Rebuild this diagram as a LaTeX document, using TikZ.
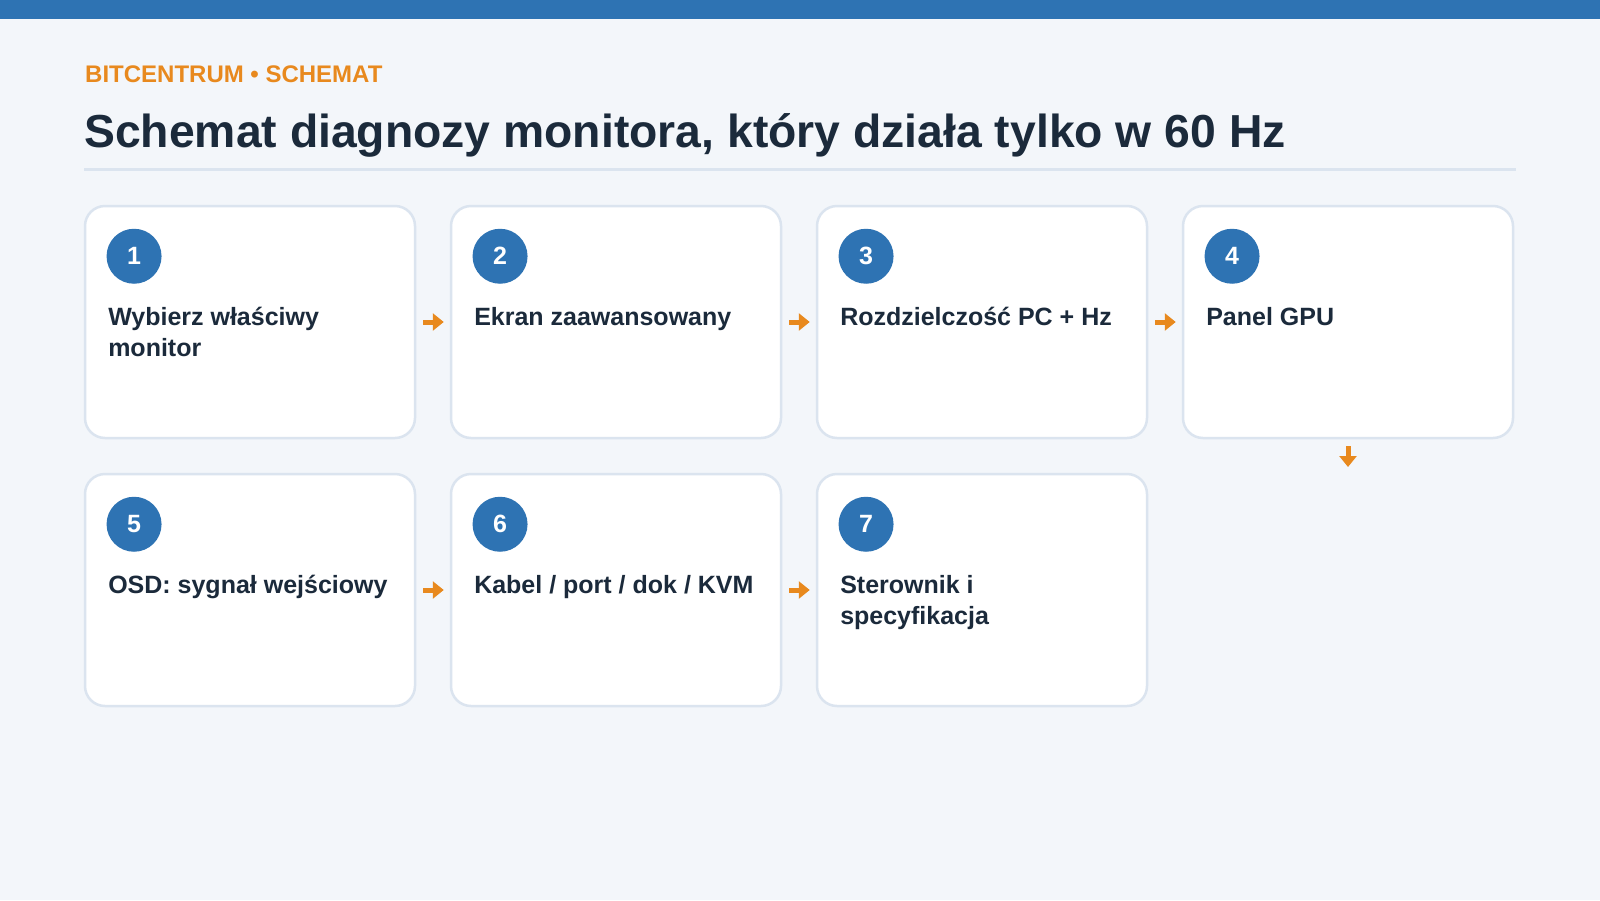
\documentclass[tikz,border=0pt]{standalone}
\usepackage{fontspec}
\setmainfont{Liberation Sans}
\usetikzlibrary{arrows.meta,calc}
\definecolor{bg}{HTML}{F3F6FA}
\definecolor{bar}{HTML}{2E73B3}
\definecolor{navy}{HTML}{1B2A3B}
\definecolor{orng}{HTML}{E8891E}
\definecolor{bord}{HTML}{DBE4EF}
\tikzset{
  card/.style={draw=bord, fill=white, line width=2.5pt, rounded corners=20pt,
    minimum width=330pt, minimum height=232pt, inner sep=0pt},
  num/.style={circle, fill=bar, text=white, minimum size=55pt, inner sep=0pt,
    font=\fontsize{25}{30}\selectfont\bfseries},
  lbl/.style={anchor=base west, inner sep=0pt, align=left, text=navy,
    font=\fontsize{25}{30.6}\selectfont\bfseries},
  flow/.style={draw=orng, line width=5pt, -{Triangle[length=11pt,width=17pt]},
    shorten <=7pt, shorten >=6pt},
}
\begin{document}
\begin{tikzpicture}[x=1pt,y=-1pt]
\fill[bg] (0,0) rectangle (1600,900);
\useasboundingbox (0,0) rectangle (1600,900);
\fill[bar] (0,0) rectangle (1600,19);
\node[anchor=base west, inner sep=0pt, text=orng, font=\fontsize{24}{28}\selectfont\bfseries] (sub) at (85,82) {BITCENTRUM • SCHEMAT};
\node[anchor=base west, inner sep=0pt, text=navy, font=\fontsize{46.3}{54}\selectfont\bfseries] (title) at (84,147.7) {Schemat diagnozy monitora, który działa tylko w 60 Hz};
\draw[bord, line width=3pt] (84,169.5) -- (1516,169.5);

\node[card] (c1) at (250,322) {};
\node[card] (c2) at (616,322) {};
\node[card] (c3) at (982,322) {};
\node[card] (c4) at (1348,322) {};
\node[card] (c5) at (250,590) {};
\node[card] (c6) at (616,590) {};
\node[card] (c7) at (982,590) {};

\foreach \i in {1,...,7}{
  \node[num] (n\i) at ($(c\i.north west)+(50.3,51.5)$) {\i};
}
% two-line labels: base anchor sits on the last line
\node[lbl] (t1) at ($(c1.north west)+(24.3,151.3)$) {Wybierz właściwy\\monitor};
\node[lbl] (t2) at ($(c2.north west)+(24.3,120.7)$) {Ekran zaawansowany};
\node[lbl] (t3) at ($(c3.north west)+(24.3,120.7)$) {Rozdzielczość PC + Hz};
\node[lbl] (t4) at ($(c4.north west)+(24.3,120.7)$) {Panel GPU};
\node[lbl] (t5) at ($(c5.north west)+(24.3,120.7)$) {OSD: sygnał wejściowy};
\node[lbl] (t6) at ($(c6.north west)+(24.3,120.7)$) {Kabel / port / dok / KVM};
\node[lbl] (t7) at ($(c7.north west)+(24.3,151.3)$) {Sterownik i\\specyfikacja};

\draw[flow] (c1.east) -- (c2.west);
\draw[flow] (c2.east) -- (c3.west);
\draw[flow] (c3.east) -- (c4.west);
\coordinate (down) at (1348,467);
\draw[flow, shorten >=0pt] (c4.south) -- (down);
\draw[flow] (c5.east) -- (c6.west);
\draw[flow] (c6.east) -- (c7.west);
\end{tikzpicture}
\end{document}
